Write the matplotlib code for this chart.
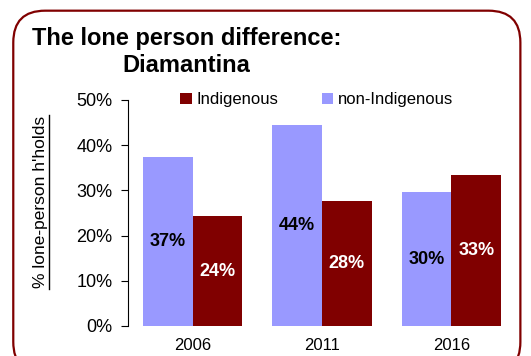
import matplotlib
matplotlib.use('Agg')
import matplotlib.pyplot as plt
import numpy as np
from matplotlib.patches import FancyBboxPatch
from matplotlib.lines import Line2D

plt.rcParams['font.family'] = ['Liberation Sans', 'DejaVu Sans']

years = ['2006', '2011', '2016']
non_indigenous = [37.4, 44.4, 29.6]
indigenous = [24.3, 27.6, 33.4]

col_non = '#9999FF'
col_ind = '#800000'

fig = plt.figure(figsize=(5.31, 3.56), dpi=100)

# rounded frame around the whole chart
frame = FancyBboxPatch((0.025, -0.05), 0.955, 1.02, boxstyle='round,pad=0,rounding_size=0.06',
                       transform=fig.transFigure, facecolor='white', edgecolor=col_ind,
                       linewidth=1.6, mutation_aspect=531/356, zorder=-5)
fig.add_artist(frame)

ax = fig.add_axes([128/531, 30/356, 388/531, 226/356])
ax.set_facecolor('none')
ax.set_zorder(2)

x = np.arange(len(years))
w = 0.385
b1 = ax.bar(x - w/2, non_indigenous, w, color=col_non, label='non-Indigenous')
b2 = ax.bar(x + w/2, indigenous, w, color=col_ind, label='Indigenous')

for rect, v in zip(b1, non_indigenous):
    ax.text(rect.get_x() + rect.get_width()/2, v/2, f'{v:.0f}%', ha='center', va='center',
            fontsize=13, fontweight='bold', color='black')
for rect, v in zip(b2, indigenous):
    ax.text(rect.get_x() + rect.get_width()/2, v/2, f'{v:.0f}%', ha='center', va='center',
            fontsize=13, fontweight='bold', color='white')

ax.set_xlim(-0.5, 2.5)
ax.set_ylim(0, 50)
ax.set_yticks(np.arange(0, 51, 10))
ax.set_yticklabels([f'{t}%' for t in range(0, 51, 10)], fontsize=13)
ax.set_xticks(x)
ax.set_xticklabels(years, fontsize=12)
ax.tick_params(axis='x', length=0, pad=9)
ax.tick_params(axis='y', direction='out', length=5, pad=6)
for s in ['top', 'right', 'bottom']:
    ax.spines[s].set_visible(False)

h, l = ax.get_legend_handles_labels()
ax.legend(h[::-1], l[::-1], loc='upper left', bbox_to_anchor=(0.095, 1.10), ncol=2,
          frameon=False, fontsize=12, handlelength=0.7, handleheight=0.7,
          handletextpad=0.3, columnspacing=2.6)

fig.text(32/531, 1 - 38/356, 'The lone person difference:', fontsize=17, fontweight='bold',
         ha='left', va='center')
fig.text(122/531, 1 - 65/356, 'Diamantina', fontsize=17, fontweight='bold',
         ha='left', va='center')

# underlined axis title
fig.text(41/531, 1 - 202/356, "% lone-person h'holds", rotation=90, fontsize=12.5,
         ha='center', va='center')
fig.add_artist(Line2D([48.5/531, 48.5/531], [1 - 289/356, 1 - 115/356], color='black', linewidth=1))

fig.savefig('out.png', dpi=100)
